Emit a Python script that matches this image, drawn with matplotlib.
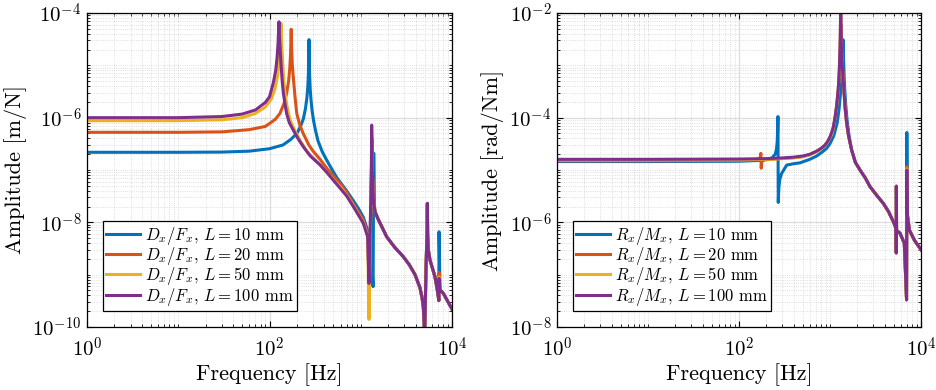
import numpy as np
import matplotlib
matplotlib.use('Agg')
import matplotlib.pyplot as plt
from matplotlib.ticker import LogLocator, NullFormatter

plt.rcParams['mathtext.fontset'] = 'cm'
plt.rcParams['font.family'] = 'serif'
plt.rcParams['font.serif'] = ['cmr10', 'DejaVu Serif']
plt.rcParams['axes.formatter.use_mathtext'] = True

# MATLAB default colours, one per strut length
colors = ['#0072BD', '#D95319', '#EDB120', '#7E2F8E']
lengths = [10, 20, 50, 100]

# ---- left panel: Dx/Fx [m/N] ----
dx_f_10 = [1, 10, 30, 60, 100, 140, 170, 200, 220, 235, 248, 257, 263, 267, 269.5, 271, 272.5, 275,
           279, 285, 293, 305, 320, 340, 380, 423, 480, 545, 620, 700, 829, 950, 1067, 1191, 1280,
           1365, 1387, 1410]
dx_amp_10 = [2.18e-7, 2.18e-7, 2.2e-7, 2.29e-7, 2.55e-7, 3.0e-7, 3.8e-7, 5.0e-7, 7.0e-7, 9.5e-7,
             1.5e-6, 2.4e-6, 3.9e-6, 7e-6, 1.5e-5, 3.1e-5, 1.5e-5, 6.5e-6, 3.6e-6, 2.2e-6, 1.35e-6,
             8.5e-7, 5.6e-7, 3.6e-7, 2.2e-7, 1.55e-7, 1.05e-7, 7.2e-8, 5.3e-8, 4.0e-8, 2.6e-8, 1.8e-8,
             1.25e-8, 7e-9, 4e-9, 5.9e-10, 2.1e-7, 2.3e-8]

dx_f_20 = [1, 10, 30, 60, 90, 115, 130, 145, 154, 162, 167, 170, 173, 175, 178, 182, 190, 199, 215,
           234, 270, 300, 358, 430, 500, 620, 700, 829, 950, 1067, 1191, 1240, 1300, 1320, 1328, 1345,
           1390]
dx_amp_20 = [5.25e-7, 5.25e-7, 5.35e-7, 5.9e-7, 6.8e-7, 9.2e-7, 1.2e-6, 1.9e-6, 2.9e-6, 5e-6, 9e-6,
             1.6e-5, 4.9e-5, 2e-5, 1.0e-5, 6.1e-6, 2.6e-6, 1.2e-6, 7.2e-7, 5.0e-7, 3e-7, 2.3e-7,
             1.6e-7, 1.05e-7, 7.8e-8, 5e-8, 3.7e-8, 2.25e-8, 1.55e-8, 1.1e-8, 6e-9, 5e-10, 3e-8,
             1.5e-7, 4e-7, 8e-8, 2.4e-8]

dx_f_50 = [1, 10, 30, 50, 70, 90, 105, 115, 123, 128, 131, 134, 136, 139, 143, 148, 155, 168, 190,
           216, 260, 358, 430, 500, 620, 700, 829, 950, 1067, 1191, 1231, 1290, 1310, 1316, 1335, 1380]
dx_amp_50 = [8.75e-7, 8.76e-7, 9.1e-7, 1.0e-6, 1.2e-6, 1.6e-6, 2.3e-6, 3.6e-6, 6.5e-6, 1.4e-5,
             2.6e-5, 6.3e-5, 2.8e-5, 1.26e-5, 5.5e-6, 2.9e-6, 1.7e-6, 9e-7, 5.6e-7, 3.7e-7, 2.2e-7,
             1.27e-7, 8.8e-8, 6.6e-8, 4.4e-8, 3.3e-8, 2.1e-8, 1.4e-8, 1.0e-8, 5.5e-9, 1.4e-10, 3e-8,
             1.5e-7, 5e-7, 1e-7, 2.5e-8]

dx_f_100 = [1, 10, 30, 50, 70, 90, 100, 110, 117, 121, 124, 127, 129, 131, 134, 138, 142, 148, 154,
            165, 182, 205, 234, 280, 358, 430, 500, 593, 700, 829, 950, 1067, 1191, 1231, 1290, 1310,
            1318, 1335, 1380]
dx_amp_100 = [1e-6, 1e-6, 1.05e-6, 1.17e-6, 1.4e-6, 1.95e-6, 2.5e-6, 4.6e-6, 8e-6, 1.4e-5, 2.6e-5,
              6.8e-5, 3.2e-5, 2e-5, 1.0e-5, 4.8e-6, 2.9e-6, 1.8e-6, 1.2e-6, 8.0e-7, 5.8e-7, 4.0e-7,
              2.8e-7, 1.85e-7, 1.25e-7, 8.8e-8, 6.4e-8, 4.5e-8, 3.2e-8, 2.0e-8, 1.35e-8, 9.6e-9,
              5.3e-9, 6.8e-10, 3e-8, 1.5e-7, 7.2e-7, 1e-7, 2.5e-8]

# common high frequency part of Dx/Fx
tail_d_f = [1432, 1550, 1698, 1924, 2333, 2930, 3400, 3935, 4460, 4700, 4850, 4950, 5000, 5200, 5320,
            5370, 5410, 5500, 5740, 6510, 6900, 7180]
tail_d_amp = [1.6e-8, 1.15e-8, 8.3e-9, 5.3e-9, 3.4e-9, 2.2e-9, 1.55e-9, 1.0e-9, 5.6e-10, 3.6e-10,
              2.4e-10, 1.2e-10, 5e-11, 1.5e-9, 6e-9, 2.3e-8, 6e-9, 3e-9, 1.9e-9, 9.1e-10, 5.1e-10,
              3.2e-10]
spike_d_f = 7210
spike_d_amp = [6.6e-9, 1.1e-9, 9e-10, 8.5e-10]
end_d_f = [7390, 8030, 10000]
end_d_amp = [5.1e-10, 4.4e-10, 2.2e-10]

# ---- right panel: Rx/Mx [rad/Nm] ----
rx_f_10 = [1, 10, 100, 180, 230, 250, 258, 263, 266, 268, 270, 274, 280, 294, 334, 400, 468, 600,
           714, 820, 920, 1000, 1100, 1200, 1260, 1310, 1345, 1370, 1385, 1390, 1395, 1410, 1440,
           1480, 1540, 1620, 1730, 1900]
rx_amp_10 = [1.45e-5, 1.45e-5, 1.47e-5, 1.53e-5, 1.7e-5, 2.0e-5, 2.5e-5, 3.5e-5, 6e-5, 1.05e-4,
             2.4e-6, 4.5e-6, 6.5e-6, 8.6e-6, 1.24e-5, 1.32e-5, 1.37e-5, 1.6e-5, 1.85e-5, 2.2e-5,
             2.6e-5, 3.2e-5, 4.5e-5, 8e-5, 1.5e-4, 3.2e-4, 7e-4, 1.5e-3, 2.6e-3, 3.1e-3, 2.6e-3,
             1.3e-3, 4.5e-4, 2e-4, 9e-5, 4.5e-5, 2.4e-5, 1.4e-5]

rx_f_20 = [1, 10, 100, 150, 165, 171, 174, 175.5, 178, 185, 220, 300, 400, 500, 600, 714, 800, 881,
           950, 1000, 1050, 1087, 1135, 1183, 1233, 1265, 1295, 1310, 1320, 1330, 1345, 1370, 1410,
           1470, 1530, 1600, 1730, 1900]
rx_amp_20 = [1.5e-5, 1.5e-5, 1.52e-5, 1.56e-5, 1.62e-5, 1.75e-5, 2.08e-5, 1.08e-5, 1.42e-5, 1.55e-5,
             1.6e-5, 1.66e-5, 1.72e-5, 1.8e-5, 1.96e-5, 2.25e-5, 2.55e-5, 2.9e-5, 3.5e-5, 4.1e-5,
             5.0e-5, 6.3e-5, 9.5e-5, 1.6e-4, 3.4e-4, 7e-4, 2.0e-3, 4e-3, 6e-3, 4e-3, 2e-3, 1.0e-3,
             4.5e-4, 1.5e-4, 7.5e-5, 4.4e-5, 2.4e-5, 1.4e-5]

rx_f_50 = [1, 10, 100, 200, 300, 400, 500, 600, 714, 800, 881, 950, 1000, 1050, 1087, 1135, 1183,
           1233, 1265, 1290, 1305, 1312, 1320, 1335, 1360, 1400, 1462, 1524, 1600, 1730, 1900]
rx_amp_50 = [1.55e-5, 1.55e-5, 1.57e-5, 1.6e-5, 1.65e-5, 1.72e-5, 1.8e-5, 1.95e-5, 2.25e-5, 2.55e-5,
             2.95e-5, 3.5e-5, 4.2e-5, 4.9e-5, 6.4e-5, 1.0e-4, 1.7e-4, 3.5e-4, 8e-4, 2.2e-3, 6.5e-3,
             1.6e-2, 6.5e-3, 2.1e-3, 1.05e-3, 4.8e-4, 1.55e-4, 7.8e-5, 4.4e-5, 2.4e-5, 1.4e-5]

rx_f_100 = [1, 10, 100, 200, 300, 400, 500, 600, 714, 800, 881, 950, 1000, 1050, 1087, 1135, 1183,
            1233, 1265, 1290, 1305, 1312, 1320, 1335, 1360, 1400, 1462, 1524, 1600, 1730, 1900]
rx_amp_100 = [1.6e-5, 1.6e-5, 1.62e-5, 1.65e-5, 1.7e-5, 1.76e-5, 1.85e-5, 2.0e-5, 2.3e-5, 2.6e-5,
              3.0e-5, 3.6e-5, 4.3e-5, 5.4e-5, 6.6e-5, 1.0e-4, 1.7e-4, 3.6e-4, 8e-4, 2.2e-3, 7e-3,
              2e-2, 7e-3, 2.2e-3, 1.1e-3, 5e-4, 1.6e-4, 8e-5, 4.5e-5, 2.4e-5, 1.4e-5]

tail_r_f = [2138, 2450, 2754, 3300, 3855, 4400, 4966, 5314, 5345, 5360, 5390, 5875, 6555, 6940]
tail_r_amp = [1.0e-5, 7e-6, 4.8e-6, 3.2e-6, 2.3e-6, 1.6e-6, 1.03e-6, 7.7e-7, 2.6e-7, 4.9e-6, 7e-7,
              6.2e-7, 4.0e-7, 3.3e-8]
spike_r_f = 6990
spike_r_amp = [5.2e-5, 1.16e-5, 1.05e-5, 1.0e-5]
end_r_f = [7050, 7450, 8500, 9750, 10000]
end_r_amp = [1.5e-6, 7.1e-7, 4.5e-7, 3.2e-7, 3.0e-7]


def full_curve(f_low, a_low, f_tail, a_tail, f_spk, a_spk, f_end, a_end):
    return f_low + f_tail + [f_spk] + f_end, a_low + a_tail + [a_spk] + a_end


def style_axes(ax, yticks, ylabel):
    ax.set_xscale('log')
    ax.set_yscale('log')
    ax.set_xlim(1, 1e4)
    ax.set_ylim(min(yticks), max(yticks))
    ax.set_xticks([1, 1e2, 1e4], [r'$10^{0}$', r'$10^{2}$', r'$10^{4}$'])
    ax.set_yticks(yticks, [r'$10^{%d}$' % round(np.log10(t)) for t in yticks])
    ax.xaxis.set_minor_locator(LogLocator(base=10, subs=np.arange(1, 10), numticks=100))
    ax.yaxis.set_minor_locator(LogLocator(base=10, subs=np.arange(1, 10), numticks=100))
    ax.xaxis.set_minor_formatter(NullFormatter())
    ax.yaxis.set_minor_formatter(NullFormatter())
    ax.grid(True, which='major', color='#dcdcdc', linewidth=0.9, linestyle='-')
    ax.grid(True, which='minor', color='#d4d4d4', linewidth=0.6, linestyle=':')
    ax.set_axisbelow(True)
    ax.tick_params(which='both', direction='in', top=True, right=True, labelsize=15)
    ax.tick_params(axis='x', which='major', pad=7)
    ax.tick_params(axis='y', which='major', pad=4)
    ax.tick_params(which='major', length=4, width=0.8)
    ax.tick_params(which='minor', length=2, width=0.6)
    for s in ax.spines.values():
        s.set_linewidth(0.9)
    ax.set_xlabel('Frequency [Hz]', fontsize=16, labelpad=2)
    ax.set_ylabel(ylabel, fontsize=16, labelpad=4)


fig = plt.figure(figsize=(9.36, 3.9), dpi=100)
ax1 = fig.add_axes([87 / 936, 63 / 390, 365 / 936, 314 / 390])
ax2 = fig.add_axes([557 / 936, 63 / 390, 364 / 936, 314 / 390])

left_low = [(dx_f_10, dx_amp_10), (dx_f_20, dx_amp_20), (dx_f_50, dx_amp_50), (dx_f_100, dx_amp_100)]
right_low = [(rx_f_10, rx_amp_10), (rx_f_20, rx_amp_20), (rx_f_50, rx_amp_50), (rx_f_100, rx_amp_100)]

for i in range(4):
    f, a = full_curve(left_low[i][0], left_low[i][1], tail_d_f, tail_d_amp,
                      spike_d_f, spike_d_amp[i], end_d_f, end_d_amp)
    ax1.plot(f, a, color=colors[i], linewidth=2.2,
             label=r'$D_x/F_x$, $L = %d$ mm' % lengths[i])
    f, a = full_curve(right_low[i][0], right_low[i][1], tail_r_f, tail_r_amp,
                      spike_r_f, spike_r_amp[i], end_r_f, end_r_amp)
    ax2.plot(f, a, color=colors[i], linewidth=2.2,
             label=r'$R_x/M_x$, $L = %d$ mm' % lengths[i])

style_axes(ax1, [1e-10, 1e-8, 1e-6, 1e-4], 'Amplitude [m/N]')
style_axes(ax2, [1e-8, 1e-6, 1e-4, 1e-2], 'Amplitude [rad/Nm]')

for ax in (ax1, ax2):
    leg = ax.legend(loc='lower left', bbox_to_anchor=(0.044, 0.051), fontsize=12,
                    fancybox=False, edgecolor='black', framealpha=1, handlelength=2.0,
                    handletextpad=0.3, borderpad=0.2, labelspacing=-0.1, borderaxespad=0)
    leg.get_frame().set_linewidth(0.9)

fig.savefig('out.png', dpi=100)
